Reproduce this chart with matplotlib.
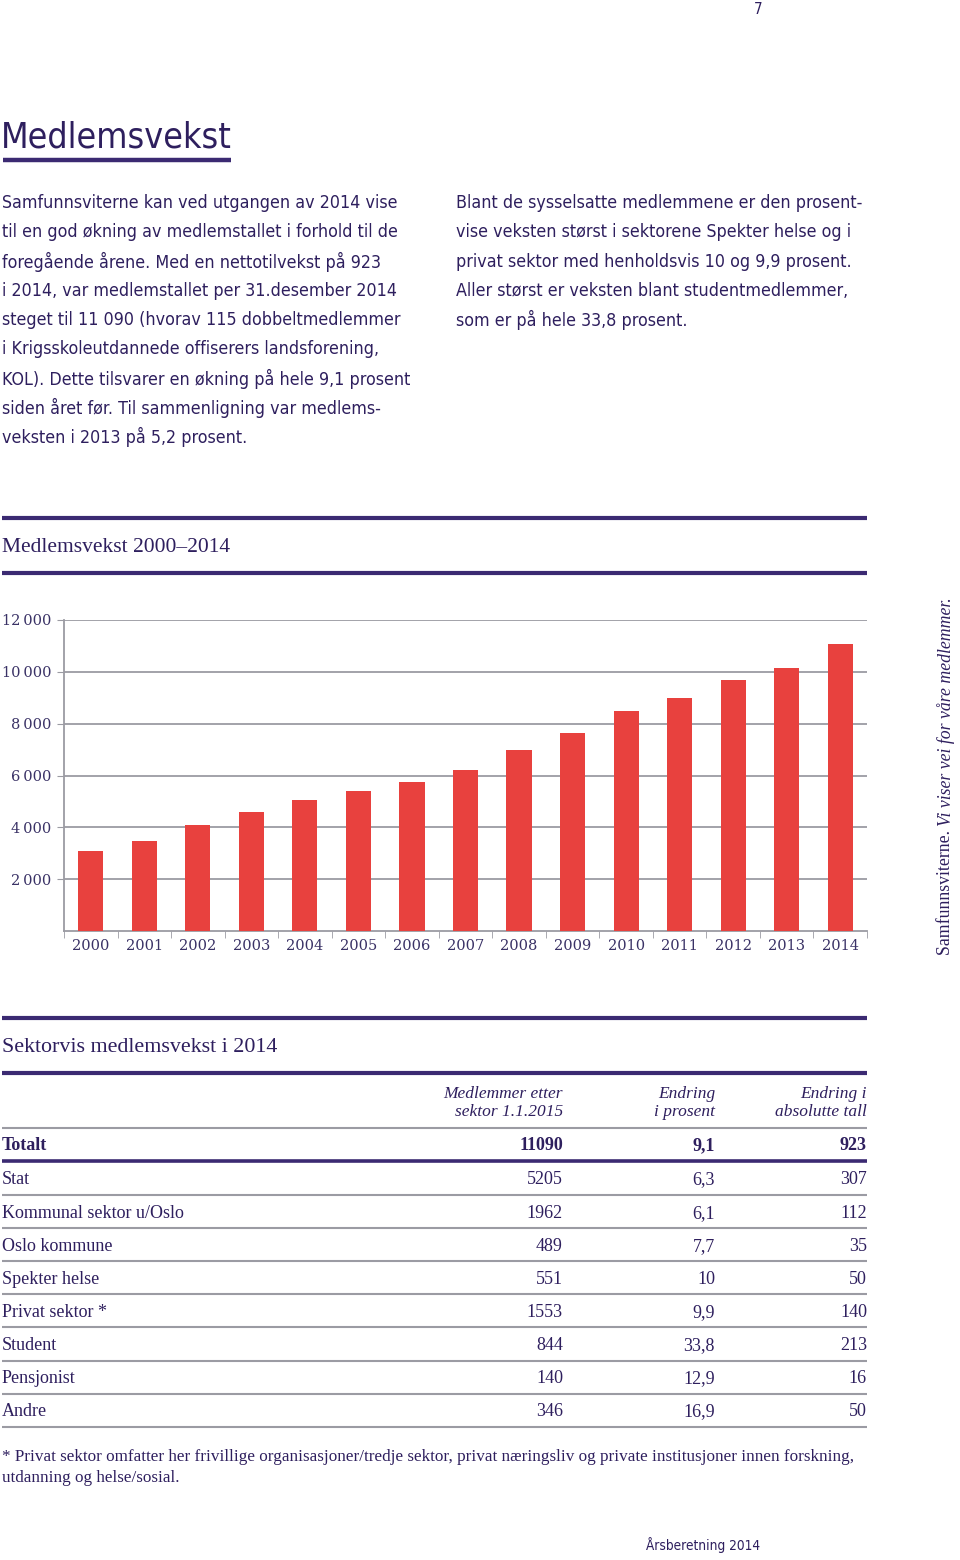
import matplotlib
matplotlib.use("Agg")
import matplotlib.pyplot as plt
from matplotlib.lines import Line2D

# Data
years = ['2000', '2001', '2002', '2003', '2004', '2005', '2006', '2007',
         '2008', '2009', '2010', '2011', '2012', '2013', '2014']
members = [3100, 3490, 4100, 4590, 5060, 5420, 5730, 6200,
           7000, 7630, 8500, 9000, 9680, 10167, 11090]

sectors = ['Stat', 'Kommunal sektor u/Oslo', 'Oslo kommune', 'Spekter helse',
           'Privat sektor *', 'Student', 'Pensjonist', 'Andre']
sector_members = ['5205', '1962', '489', '551', '1553', '844', '140', '346']
change_pct = ['6,3', '6,1', '7,7', '10', '9,9', '33,8', '12,9', '16,9']
change_abs = ['307', '112', '35', '50', '140', '213', '16', '50']
total_row = ['Totalt', '11090', '9,1', '923']
headers = ['Medlemmer etter\nsektor 1.1.2015', 'Endring\ni prosent', 'Endring i\nabsolutte tall']

W, H = 960, 1560
PURPLE = '#2e1f5e'
LINE = '#3b2a72'
GRAY = '#9b9ba3'
RED = '#e8413e'
SANS = 'DejaVu Sans'
SERIF = ['Liberation Serif', 'DejaVu Serif']

fig = plt.figure(figsize=(9.6, 15.6), dpi=100)


def T(x, y, s, **kw):
    kw.setdefault('color', PURPLE)
    kw.setdefault('va', 'center')
    if kw.get('family') == SANS:
        kw.setdefault('fontstretch', 'condensed')
    return fig.text(x / W, 1 - y / H, s, **kw)


def hline(y, x0, x1, lw, color):
    fig.add_artist(Line2D([x0 / W, x1 / W], [1 - y / H] * 2, lw=lw, color=color,
                          solid_capstyle='butt'))


# page number and title
T(754, 10, '7', family=SANS, fontsize=11)
T(1, 138, 'Medlemsvekst', family=SANS, fontsize=25.7)
hline(160, 3, 231, 3.2, LINE)

left_par = ["Samfunnsviterne kan ved utgangen av 2014 vise",
            "til en god økning av medlemstallet i forhold til de",
            "foregående årene. Med en nettotilvekst på 923",
            "i 2014, var medlemstallet per 31.desember 2014",
            "steget til 11 090 (hvorav 115 dobbeltmedlemmer",
            "i Krigsskoleutdannede offiserers landsforening,",
            "KOL). Dette tilsvarer en økning på hele 9,1 prosent",
            "siden året før. Til sammenligning var medlems-",
            "veksten i 2013 på 5,2 prosent."]
right_par = ["Blant de sysselsatte medlemmene er den prosent-",
             "vise veksten størst i sektorene Spekter helse og i",
             "privat sektor med henholdsvis 10 og 9,9 prosent.",
             "Aller størst er veksten blant studentmedlemmer,",
             "som er på hele 33,8 prosent."]
for i, line in enumerate(left_par):
    T(2, 203 + i * 29.3, line, family=SANS, fontsize=12.8)
for i, line in enumerate(right_par):
    T(456, 203 + i * 29.3, line, family=SANS, fontsize=12.8)

# chart header
hline(518, 2, 867, 3.0, LINE)
T(2, 547, 'Medlemsvekst 2000–2014', family=SERIF, fontsize=15.5)
hline(573, 2, 867, 3.0, LINE)

# bar chart
ax = fig.add_axes([64 / W, 1 - 931 / H, (867 - 64) / W, (931 - 620) / H])
x = list(range(len(years)))
ax.bar(x, members, width=0.47, color=RED, zorder=3)
ax.set_xlim(-0.5, len(years) - 0.5)
ax.set_ylim(0, 12000)
yt = [2000, 4000, 6000, 8000, 10000, 12000]
ax.set_yticks(yt)
ax.set_yticklabels([f'{v // 1000}\u2009000' for v in yt],
                   family='DejaVu Serif', fontsize=10.5, color='#3a3266')
ax.set_xticks(x)
ax.set_xticklabels(years, family='DejaVu Serif', fontsize=10.5, color='#3a3266')
ax.set_xticks([i - 0.5 for i in range(len(years) + 1)], minor=True)
ax.tick_params(axis='x', which='major', length=0, pad=6)
ax.tick_params(axis='x', which='minor', length=5, color=GRAY, direction='out')
ax.tick_params(axis='y', length=5, color=GRAY, pad=4)
ax.grid(axis='y', color=GRAY, lw=1.3, zorder=0)
for s in ['top', 'right']:
    ax.spines[s].set_visible(False)
for s in ['left', 'bottom']:
    ax.spines[s].set_color(GRAY)
    ax.spines[s].set_linewidth(1.3)

# rotated slogan
fig.canvas.draw()
r = fig.canvas.get_renderer()
t1 = T(946, 955, 'Samfunnsviterne. ', family=SERIF, fontsize=12.8, rotation=90,
       va='bottom', ha='center')
ext = t1.get_window_extent(r)
T(946, H - ext.y1, 'Vi viser vei for våre medlemmer.', family=SERIF, fontsize=12.8,
  rotation=90, va='bottom', ha='center', style='italic')

# table
hline(1018, 2, 867, 3.0, LINE)
T(2, 1047, 'Sektorvis medlemsvekst i 2014', family=SERIF, fontsize=15.8)
hline(1073, 2, 867, 3.0, LINE)
col_x = [563, 715, 867]
for cx, h in zip(col_x, headers):
    T(cx, 1103, h, family=SERIF, fontsize=12.5, style='italic', ha='right',
      linespacing=1.1)
hline(1128, 2, 867, 1.5, GRAY)
T(2, 1146, total_row[0], family=SERIF, fontsize=13, weight='bold')
for cx, v in zip(col_x, total_row[1:]):
    T(cx, 1146, v, family=SERIF, fontsize=13, weight='bold', ha='right')
hline(1161, 2, 867, 2.6, LINE)
for i, name in enumerate(sectors):
    y = 1180 + i * 33.1
    T(2, y, name, family=SERIF, fontsize=13)
    for cx, v in zip(col_x, [sector_members[i], change_pct[i], change_abs[i]]):
        T(cx, y, v, family=SERIF, fontsize=13, ha='right')
    hline(y + 15, 2, 867, 1.5, GRAY)

T(2, 1457, '* Privat sektor omfatter her frivillige organisasjoner/tredje sektor, '
  'privat næringsliv og private institusjoner innen forskning,', family=SERIF, fontsize=12.3)
T(2, 1478, 'utdanning og helse/sosial.', family=SERIF, fontsize=12.3)

T(646, 1545, 'Årsberetning 2014', family=SANS, fontsize=9.8)

fig.savefig('out.png', dpi=100)
